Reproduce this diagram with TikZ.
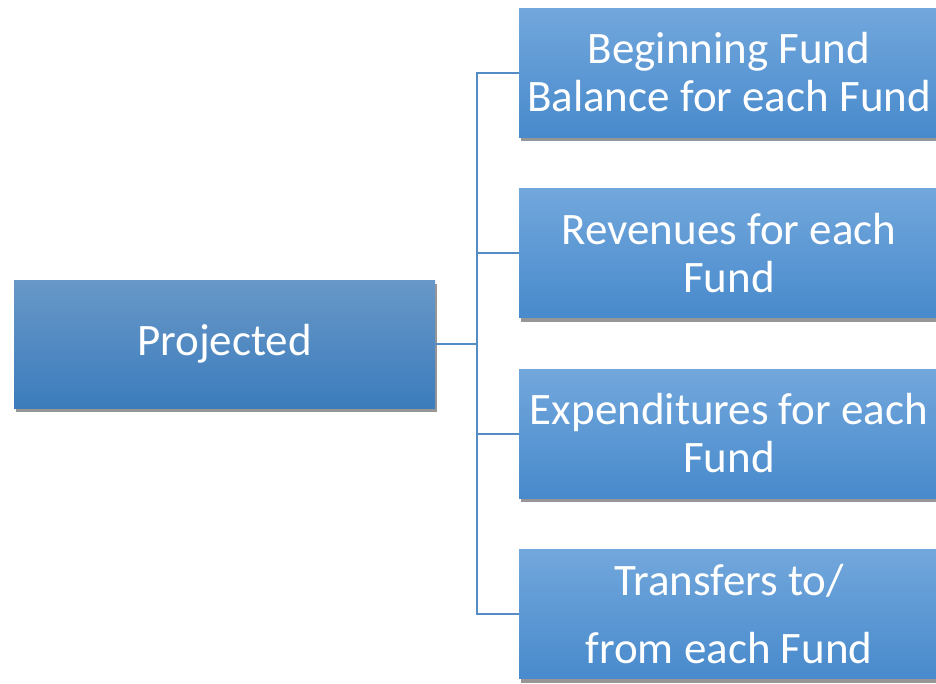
\documentclass[tikz,border=0pt]{standalone}
\usepackage{fontspec}
\setmainfont{Carlito}
\usetikzlibrary{shadows}
\definecolor{boxtop}{RGB}{114,167,220}
\definecolor{boxbottom}{RGB}{72,138,204}
\definecolor{roottop}{RGB}{104,152,200}
\definecolor{rootbottom}{RGB}{60,124,188}
\definecolor{linkblue}{RGB}{84,140,198}

\begin{document}
\begin{tikzpicture}[
  x=1pt,
  y=-1pt,
  every node/.style={font=\fontsize{45}{48}\selectfont},
  fundbox/.style={rectangle, minimum width=420pt, minimum height=129pt,
    top color=boxtop, bottom color=boxbottom, text=white, align=center,
    inner sep=0pt,
    drop shadow={shadow xshift=2pt, shadow yshift=-4pt, opacity=0.55, fill=black!75}},
  rootbox/.style={fundbox, minimum width=421pt, minimum height=128pt,
    top color=roottop, bottom color=rootbottom},
  link/.style={draw=linkblue, line width=2pt}
]
  \useasboundingbox (0,0) rectangle (936,683);

  \node[rootbox] (proj) at (224.5,344) {Projected};

  \node[fundbox] (begin) at (729,72.5) {Beginning Fund\\Balance for each Fund};
  \node[fundbox] (rev) at (729,253) {Revenues for each\\Fund};
  \node[fundbox] (exp) at (729,433.5) {Expenditures for each\\Fund};
  \node[fundbox] (trans) at (729,614) {Transfers to/\\[20pt]from each Fund};

  % bus line between the root and the funds
  \coordinate (bus) at (477,344);
  \path[link] (proj.east) -- (bus);
  \foreach \f in {begin,rev,exp,trans}
    \path[link] (bus) |- (\f.west);
\end{tikzpicture}
\end{document}
